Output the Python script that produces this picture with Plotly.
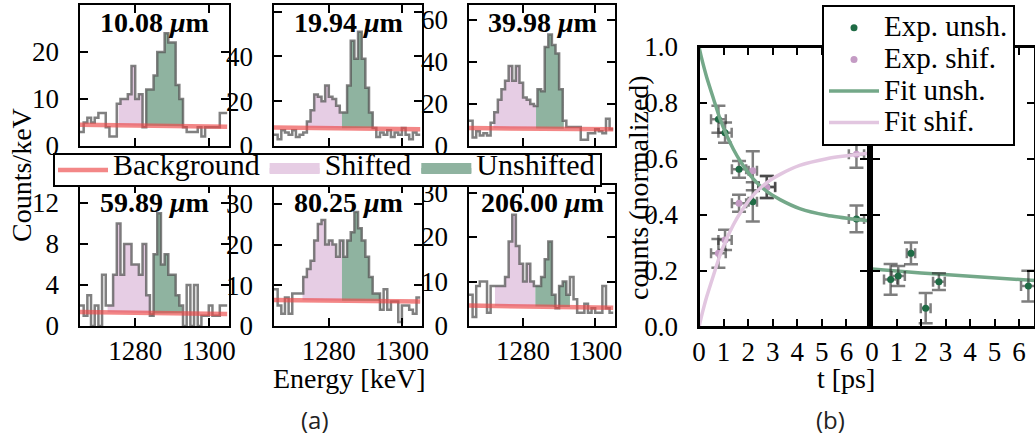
"""Espectros de energia (a) e fração de contagens x tempo (b) com Plotly."""

import math

import plotly.graph_objects as go

W, H = 1035, 441
FONTE = "Liberation Serif"

# Paleta de cores
ROSA = "#e6cde4"
VERDE_FILL = "#8fb3a0"
VERMELHO = "rgba(236,70,70,0.65)"
CINZA_LINHA = "rgba(85,85,85,0.75)"
VERDE_LINHA = "#74a889"
ROSA_LINHA = "#e2c6e0"
VERDE_PONTO = "#1f6b45"
ROSA_PONTO = "#c49bc4"
BARRA_ERRO = "rgba(40,40,40,0.6)"

# ---------------------------------------------------------------- (a) dados
X_MIN, X_MAX = 1265, 1305
BIN_START = 1265  # bins de 1 keV
DISTANCIAS = ["10.08", "19.94", "39.98", "59.89", "80.25", "206.00"]

CONT_10 = [3, 5, 6, 5, 6, 7, 7, 4, 2, 2,
           9, 10, 10, 11, 17, 10, 11, 4, 12, 12,
           15, 20, 20, 24, 22, 22, 13, 10, 4, 3,
           3, 3, 4, 2, 4, 4, 4, 4, 7, 7]
CONT_20 = [5, 3, 7, 6, 5, 7, 4, 5, 6, 11,
           16, 23, 22, 20, 27, 22, 21, 18, 15, 15,
           27, 47, 39, 51, 39, 26, 15, 8, 4, 6,
           5, 7, 4, 6, 5, 8, 5, 3, 6, 5]
CONT_40 = [12, 4, 7, 5, 6, 5, 11, 16, 22, 27,
           31, 38, 31, 38, 30, 23, 22, 20, 19, 27,
           26, 47, 53, 48, 44, 27, 12, 9, 9, 9,
           9, 3, 3, 6, 6, 8, 7, 6, 13, 8]
CONT_60 = [2, 1, 3, 0, 2, 0, 5, 2, 2, 5,
           10, 5, 8, 8, 6, 6, 5, 8, 3, 1,
           7, 11, 6, 7, 5, 5, 3, 2, 0, 4,
           0, 4, 0, 1, 1, 2, 1, 1, 2, 2]
CONT_80 = [9, 5, 3, 7, 3, 8, 8, 8, 12, 14,
           16, 21, 25, 26, 20, 21, 20, 17, 21, 17,
           21, 23, 28, 24, 21, 17, 12, 8, 8, 4,
           9, 4, 6, 6, 1, 5, 5, 4, 3, 7]
CONT_206 = [7, 2, 9, 10, 10, 3, 9, 9, 9, 9,
            11, 19, 25, 18, 14, 10, 14, 10, 9, 9,
            11, 15, 19, 7, 4, 9, 10, 7, 11, 6,
            3, 3, 5, 3, 4, 3, 3, 9, 4, 3]
CONTAGENS = [CONT_10, CONT_20, CONT_40, CONT_60, CONT_80, CONT_206]

FUNDO_INI = [4.5, 8.3, 8.5, 1.37, 6.4, 4.6]
FUNDO_FIM = [4.1, 7.5, 8.0, 1.17, 6.0, 4.1]
SHIFT_INI = [1275.5, 1274.0, 1271.8, 1272.5, 1272.8, 1272.2]
CORTE = [1283.0, 1283.6, 1283.6, 1284.3, 1283.6, 1283.4]
UNSH_FIM = [1294.0, 1293.0, 1291.3, 1292.7, 1294.3, 1293.0]
Y_MAX = [30, 63, 67, 13.75, 34.6, 31.7]
Y_DTICK = [10, 20, 20, 4, 10, 10]

# ---------------------------------------------------------------- (b) dados
T_EXP = [0.79, 1.06, 1.63, 2.19, 2.76, 6.41]
T_ERR = [0.30, 0.27, 0.29, 0.17, 0.34, 0.31]
UNSH = [0.742, 0.694, 0.563, 0.447, 0.501, 0.386]
UNSH_ERR = [0.048, 0.036, 0.030, 0.070, 0.039, 0.048]
SHIF = [0.263, 0.311, 0.442, 0.558, 0.499, 0.617]
SHIF_ERR = [0.051, 0.036, 0.030, 0.070, 0.039, 0.048]

T_FIT = [0, 0.1, 0.2, 0.31, 0.59, 0.86, 1.13, 1.4, 1.67, 2.2, 2.76, 3.3, 4.1, 5.2, 6.6, 6.9]
FIT_UNSH = [1.0, 0.962, 0.928, 0.893, 0.815, 0.742, 0.684, 0.635, 0.594, 0.530,
            0.484, 0.455, 0.423, 0.399, 0.382, 0.379]
FIT_SHIF = [0.0, 0.038, 0.072, 0.107, 0.185, 0.258, 0.316, 0.365, 0.406, 0.470,
            0.516, 0.545, 0.577, 0.601, 0.618, 0.621]

T_EXP2 = [0.76, 1.07, 1.59, 2.19, 2.73, 6.38]
T_ERR2 = [0.27, 0.27, 0.17, 0.20, 0.24, 0.30]
UNSH2 = [0.170, 0.182, 0.263, 0.067, 0.162, 0.146]
UNSH2_ERR = [0.055, 0.036, 0.039, 0.054, 0.030, 0.055]
T_FIT2 = [0, 2, 4, 6.65]
FIT_UNSH2 = [0.207, 0.193, 0.181, 0.166]


def _passo(cont, x):
    i = int(math.floor(x - BIN_START))
    return cont[max(0, min(len(cont) - 1, i))]


def _fundo(i, x):
    return FUNDO_INI[i] + (FUNDO_FIM[i] - FUNDO_INI[i]) * (x - X_MIN) / (X_MAX - X_MIN)


def _regiao(i, lo, hi):
    """Polígono entre o fundo e o histograma no intervalo [lo, hi]."""
    cont = CONTAGENS[i]
    bordas = [lo] + [BIN_START + k for k in range(len(cont) + 1)
                     if lo < BIN_START + k < hi] + [hi]
    xs, ys = [], []
    for a, b in zip(bordas[:-1], bordas[1:]):
        v = _passo(cont, (a + b) / 2)
        xs += [a, b]
        ys += [v, v]
    xs += [hi, lo]
    ys += [_fundo(i, hi), _fundo(i, lo)]
    return xs, ys


def _sfx(n):
    return "" if n == 1 else str(n)


def _leg(txt, tam=29):
    # texto maior que a fonte da legenda, para manter as linhas compactas
    return f'<span style="font-size:{tam}px">{txt}</span>'


COLS = [(80, 229), (274, 422), (469, 615)]
ROWS = [(5, 146), (185, 326)]

eixo_base = dict(
    showline=True, linecolor="black", linewidth=2, mirror="ticks",
    ticks="inside", ticklen=8, tickwidth=1.5, tickcolor="black",
    showgrid=False, zeroline=False, automargin=False,
    tickfont=dict(family=FONTE, size=27, color="black"),
)

fig = go.Figure()
layout = {}
anotacoes = []

# entradas da legenda (a): a linha de fundo vem do primeiro painel
for nome, cor, rank in [("Shifted", ROSA, 2), ("Unshifted", VERDE_FILL, 3)]:
    fig.add_trace(go.Scatter(
        x=[None], y=[None], mode="lines", fill="toself", fillcolor=cor,
        line=dict(color=cor, width=16), name=_leg(nome, 30), legend="legend",
        legendrank=rank,
    ))

for i, cont in enumerate(CONTAGENS):
    n = i + 1
    r, c = divmod(i, 3)
    xr, yr = "x" + _sfx(n), "y" + _sfx(n)

    for lo, hi, cor in [
        (SHIFT_INI[i], CORTE[i], ROSA),
        (CORTE[i], UNSH_FIM[i], VERDE_FILL),
    ]:
        px, py = _regiao(i, lo, hi)
        fig.add_trace(go.Scatter(
            x=px, y=py, xaxis=xr, yaxis=yr, mode="lines", fill="toself",
            fillcolor=cor, line=dict(width=0), showlegend=False, hoverinfo="skip",
        ))

    bordas = [BIN_START + k for k in range(len(cont) + 1)]
    fig.add_trace(go.Scatter(
        x=bordas, y=cont + [cont[-1]], xaxis=xr, yaxis=yr, mode="lines",
        line=dict(color=CINZA_LINHA, width=2.5, shape="hv"), showlegend=False,
    ))
    fig.add_trace(go.Scatter(
        x=[X_MIN, X_MAX], y=[FUNDO_INI[i], FUNDO_FIM[i]], xaxis=xr, yaxis=yr,
        mode="lines", line=dict(color=VERMELHO, width=4.5),
        name=_leg("Background", 30), legendgroup="bg", showlegend=(i == 0),
        legendrank=1, legend="legend",
    ))

    x0, x1 = COLS[c]
    y0, y1 = ROWS[r]
    layout["xaxis" + _sfx(n)] = dict(
        eixo_base, domain=[x0 / W, x1 / W], anchor=yr, range=[X_MIN, X_MAX + 0.5],
        tickvals=[1280, 1300], showticklabels=(r == 1),
    )
    layout["yaxis" + _sfx(n)] = dict(
        eixo_base, domain=[1 - y1 / H, 1 - y0 / H], anchor=xr, range=[0, Y_MAX[i]],
        dtick=Y_DTICK[i], ticksuffix="  ",
    )
    anotacoes.append(dict(
        text=f"<b>{DISTANCIAS[i]} <i>μ</i>m</b>", xref=f"{xr} domain",
        yref=f"{yr} domain", x=0.5, y=1.0, xanchor="center", yanchor="top",
        showarrow=False, font=dict(family=FONTE, size=28, color="black"),
    ))

# ---------------------------------------------------------------- (b)
erro = dict(type="data", color=BARRA_ERRO, thickness=2.5)
fig.add_trace(go.Scatter(
    x=T_EXP, y=UNSH, xaxis="x7", yaxis="y7", mode="markers", name=_leg("Exp. unsh."),
    marker=dict(color=VERDE_PONTO, size=7),
    error_y=dict(erro, array=UNSH_ERR, width=7),
    error_x=dict(erro, array=T_ERR, width=5),
    legend="legend2",
))
fig.add_trace(go.Scatter(
    x=T_EXP, y=SHIF, xaxis="x7", yaxis="y7", mode="markers", name=_leg("Exp. shif."),
    marker=dict(color=ROSA_PONTO, size=7),
    error_y=dict(erro, array=SHIF_ERR, width=7),
    error_x=dict(erro, array=T_ERR, width=5),
    legend="legend2",
))
fig.add_trace(go.Scatter(
    x=T_FIT, y=FIT_UNSH, xaxis="x7", yaxis="y7", mode="lines", name=_leg("Fit unsh."),
    line=dict(color=VERDE_LINHA, width=3.5, shape="spline", smoothing=0.8),
    legend="legend2",
))
fig.add_trace(go.Scatter(
    x=T_FIT, y=FIT_SHIF, xaxis="x7", yaxis="y7", mode="lines", name=_leg("Fit shif."),
    line=dict(color=ROSA_LINHA, width=3.5, shape="spline", smoothing=0.8),
    legend="legend2",
))
fig.add_trace(go.Scatter(
    x=T_FIT2, y=FIT_UNSH2, xaxis="x8", yaxis="y8", mode="lines",
    line=dict(color=VERDE_LINHA, width=3.5, shape="spline"), showlegend=False,
))
fig.add_trace(go.Scatter(
    x=T_EXP2, y=UNSH2, xaxis="x8", yaxis="y8", mode="markers", showlegend=False,
    marker=dict(color=VERDE_PONTO, size=7),
    error_y=dict(erro, array=UNSH2_ERR, width=7),
    error_x=dict(erro, array=T_ERR2, width=5),
))

TICKS_T = [0, 1, 2, 3, 4, 5, 6]
layout["xaxis7"] = dict(eixo_base, domain=[699 / W, 868 / W], anchor="y7",
                        range=[0, 6.88], tickvals=TICKS_T)
layout["yaxis7"] = dict(eixo_base, domain=[1 - 327 / H, 1 - 47 / H], anchor="x7",
                        range=[0, 1], dtick=0.2, tickformat=".1f", ticksuffix="  ")
layout["xaxis8"] = dict(eixo_base, domain=[872 / W, 1.0], anchor="y8",
                        range=[0, 6.65], tickvals=TICKS_T)
layout["yaxis8"] = dict(eixo_base, domain=[1 - 327 / H, 1 - 47 / H], anchor="x8",
                        range=[0, 1], dtick=0.2, showticklabels=False)

# moldura dos dois quadros de (b)
molduras = [
    dict(type="rect", xref=f"x{k} domain", yref=f"y{k} domain", x0=0, x1=1, y0=0, y1=1,
         line=dict(color="black", width=2), fillcolor="rgba(0,0,0,0)", layer="above")
    for k in (7, 8)
]

fonte_txt = dict(family=FONTE, size=28, color="black")
for txt, x, y, ang in [
    ("Counts/keV", 22, 175, -90),
    ("Energy [keV]", 349, 378, 0),
    ("counts (normalized)", 638, 188, -90),
    ("t [ps]", 846, 378, 0),
]:
    anotacoes.append(dict(text=txt, x=x / W, y=1 - y / H, xref="paper", yref="paper",
                          xanchor="center", yanchor="middle", textangle=ang,
                          showarrow=False, font=fonte_txt))
for txt, x in [("(a)", 315), ("(b)", 830)]:
    anotacoes.append(dict(text=txt, x=x / W, y=1 - 419 / H, xref="paper", yref="paper",
                          xanchor="center", yanchor="middle", showarrow=False,
                          font=dict(family="Open Sans", size=24, color="#222")))

fig.update_layout(
    **layout,
    width=W, height=H,
    margin=dict(t=0, b=0, l=0, r=0, autoexpand=False),
    paper_bgcolor="white", plot_bgcolor="white",
    annotations=anotacoes,
    shapes=molduras,
    legend=dict(
        orientation="h", x=53 / W, y=1 - 153 / H, xanchor="left", yanchor="top",
        bordercolor="black", borderwidth=2, bgcolor="white",
        font=dict(family=FONTE, size=13, color="black"), itemwidth=50,
    ),
    legend2=dict(
        x=822 / W, y=1 - 5 / H, xanchor="left", yanchor="top",
        bordercolor="black", borderwidth=2, bgcolor="white",
        font=dict(family=FONTE, size=22, color="black"), tracegroupgap=0,
        itemwidth=50,
    ),
)

fig.write_html("out.html", config={"displayModeBar": False},
               post_script="document.body.style.margin='0';")
